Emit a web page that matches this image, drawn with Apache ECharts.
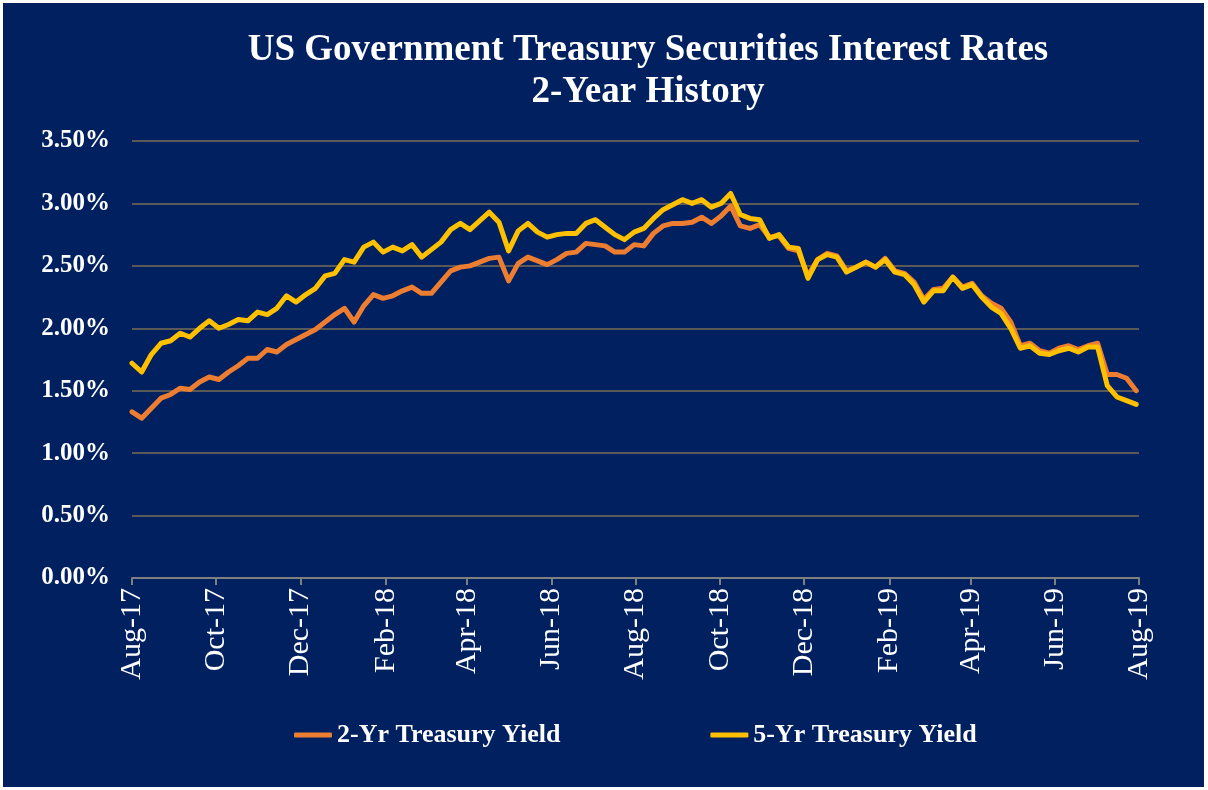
<!DOCTYPE html>
<html>
<head>
<meta charset="utf-8">
<script src="https://cdn.jsdelivr.net/npm/echarts@6/dist/echarts.min.js"></script>
<style>
    html, body { margin: 0; padding: 0; background: #ffffff; }
    #main { position: absolute; left: 3px; top: 3px; width: 1201px; height: 784px; background: #002060; }
</style>
</head>
<body>
<div id="main"></div>
<script>
    // weekly readings, first one on 1 Aug 2017
    var startDate = [2017, 7, 1];

    var yield2 = [
        1.33, 1.28, 1.36, 1.44, 1.47, 1.52, 1.51, 1.57, 1.61, 1.59,
        1.65, 1.70, 1.76, 1.76, 1.83, 1.81, 1.87, 1.91, 1.95, 1.99,
        2.05, 2.11, 2.16, 2.05, 2.18, 2.27, 2.24, 2.26, 2.30, 2.33,
        2.28, 2.28, 2.37, 2.46, 2.49, 2.50, 2.53, 2.56, 2.57, 2.38,
        2.52, 2.57, 2.54, 2.51, 2.55, 2.60, 2.61, 2.68, 2.67, 2.66,
        2.61, 2.61, 2.67, 2.66, 2.76, 2.82, 2.84, 2.84, 2.85, 2.89,
        2.84, 2.90, 2.98, 2.82, 2.80, 2.83, 2.73, 2.74, 2.64, 2.62,
        2.42, 2.55, 2.60, 2.58, 2.46, 2.49, 2.53, 2.49, 2.56, 2.46,
        2.44, 2.37, 2.23, 2.31, 2.32, 2.41, 2.33, 2.36, 2.26, 2.20,
        2.16, 2.05, 1.86, 1.88, 1.82, 1.80, 1.84, 1.86, 1.83, 1.86,
        1.88, 1.63, 1.63, 1.60, 1.50
    ];

    var yield5 = [
        1.72, 1.65, 1.79, 1.88, 1.90, 1.96, 1.93, 2.00, 2.06, 2.00,
        2.03, 2.07, 2.06, 2.13, 2.11, 2.16, 2.26, 2.21, 2.27, 2.32,
        2.42, 2.44, 2.55, 2.53, 2.65, 2.69, 2.61, 2.65, 2.62, 2.67,
        2.57, 2.63, 2.69, 2.79, 2.84, 2.79, 2.86, 2.93, 2.85, 2.62,
        2.78, 2.84, 2.77, 2.73, 2.75, 2.76, 2.76, 2.84, 2.87, 2.81,
        2.75, 2.71, 2.77, 2.80, 2.88, 2.95, 2.99, 3.03, 3.00, 3.03,
        2.97, 3.00, 3.08, 2.91, 2.88, 2.87, 2.72, 2.75, 2.65, 2.64,
        2.40, 2.55, 2.59, 2.57, 2.45, 2.49, 2.53, 2.49, 2.55, 2.45,
        2.43, 2.35, 2.21, 2.30, 2.30, 2.41, 2.32, 2.35, 2.25, 2.17,
        2.12, 2.00, 1.84, 1.86, 1.80, 1.79, 1.82, 1.84, 1.81, 1.85,
        1.85, 1.54, 1.45, 1.42, 1.39
    ];

    var tickDates = [
        '2017-08-01', '2017-10-01', '2017-12-01', '2018-02-01', '2018-04-01',
        '2018-06-01', '2018-08-01', '2018-10-01', '2018-12-01', '2019-02-01',
        '2019-04-01', '2019-06-01', '2019-08-01'
    ];
    var tickLabels = [
        'Aug-17', 'Oct-17', 'Dec-17', 'Feb-18', 'Apr-18', 'Jun-18', 'Aug-18',
        'Oct-18', 'Dec-18', 'Feb-19', 'Apr-19', 'Jun-19', 'Aug-19'
    ];

    var serif = '"Liberation Serif", "Times New Roman", serif';

    function toTime(s){
        var p = s.split('-');
        return Date.UTC(+p[0], +p[1] - 1, +p[2]);
    }
    var tickTimes = tickDates.map(toTime);

    function pairs(values){
        return values.map(function(v, i){
            return [Date.UTC(startDate[0], startDate[1], startDate[2] + 7 * i), v];
        });
    }

    var myChart = echarts.init(document.getElementById('main'));
    var option = {
        backgroundColor: '#002060',
        animation: false,
        title: {
            text: 'US Government Treasury Securities Interest Rates\n2-Year History',
            left: 640,
            top: 21,
            textAlign: 'center',
            textStyle: {
                color: '#ffffff',
                fontFamily: serif,
                fontWeight: 'bold',
                fontSize: 37,
                lineHeight: 42
            }
        },
        legend: {
            left: 286,
            top: 714,
            itemGap: 150,
            itemWidth: 38,
            itemHeight: 5,
            icon: 'roundRect',
            textStyle: {
                color: '#ffffff',
                fontFamily: serif,
                fontWeight: 'bold',
                fontSize: 26
            },
            data: ['2-Yr Treasury Yield', '5-Yr Treasury Yield']
        },
        grid: {
            left: 129,
            right: 65,
            top: 138,
            bottom: 209
        },
        // dates as a value axis so ticks sit on the month starts
        xAxis: {
            type: 'value',
            min: tickTimes[0],
            max: tickTimes[tickTimes.length - 1],
            splitLine: { show: false },
            axisLine: {
                lineStyle: { color: '#7f7f7f', width: 2 }
            },
            axisTick: {
                show: true,
                length: 7,
                customValues: tickTimes,
                lineStyle: { color: '#7f7f7f', width: 2 }
            },
            axisLabel: {
                customValues: tickTimes,
                rotate: 90,
                margin: 10,
                color: '#ffffff',
                fontFamily: serif,
                fontSize: 30,
                formatter: function(v){
                    var i = tickTimes.indexOf(v);
                    return i >= 0 ? tickLabels[i] : '';
                }
            }
        },
        yAxis: {
            type: 'value',
            min: 0,
            max: 3.5,
            interval: 0.5,
            axisLine: { show: false },
            axisTick: { show: false },
            splitLine: {
                lineStyle: { color: '#595959', width: 2 }
            },
            axisLabel: {
                margin: 22,
                color: '#ffffff',
                fontFamily: serif,
                fontWeight: 'bold',
                fontSize: 25,
                formatter: function(v){ return v.toFixed(2) + '%'; }
            }
        },
        series: [
            {
                name: '2-Yr Treasury Yield',
                type: 'line',
                showSymbol: false,
                color: '#ED7D31',
                lineStyle: { width: 5, color: '#ED7D31', cap: 'round', join: 'round' },
                data: pairs(yield2)
            },
            {
                name: '5-Yr Treasury Yield',
                type: 'line',
                showSymbol: false,
                color: '#FFC000',
                lineStyle: { width: 5, color: '#FFC000', cap: 'round', join: 'round' },
                data: pairs(yield5)
            }
        ]
    };
    myChart.setOption(option);
</script>
</body>
</html>
